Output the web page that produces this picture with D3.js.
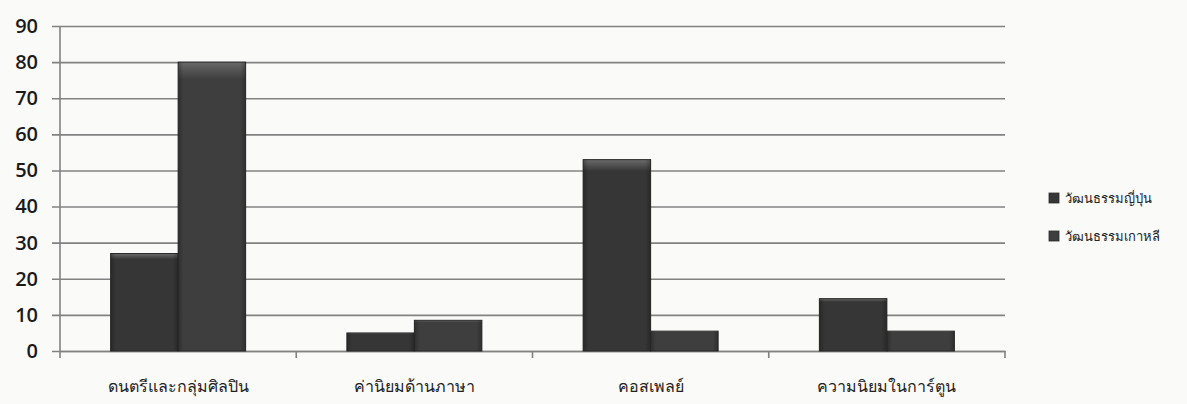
<!DOCTYPE html>
<html>
<head>
<meta charset="utf-8">
<script src="https://cdn.jsdelivr.net/npm/d3@7"></script>
<style>
  html, body { margin: 0; padding: 0; background: #fafaf9; }
  svg { display: block; }
</style>
</head>
<body>
<svg id="chart" width="1187" height="404"></svg>
<script>
// Categories, series and tick values
const categories = ["ดนตรีและกลุ่มศิลปิน", "ค่านิยมด้านภาษา", "คอสเพลย์", "ความนิยมในการ์ตูน"];
const seriesNames = ["วัฒนธรรมญี่ปุ่น", "วัฒนธรรมเกาหลี"];
const japanValues = [27, 5, 53, 14.5];
const koreaValues = [80, 8.5, 5.5, 5.5];
const yTicks = [0, 10, 20, 30, 40, 50, 60, 70, 80, 90];

const seriesValues = [japanValues, koreaValues];
const seriesColors = ["#363636", "#3e3e3e"];

const svg = d3.select("#chart");
const margin = { left: 60, right: 182, top: 26, bottom: 53 };
const W = 1187, H = 404;
const plotW = W - margin.left - margin.right;
const plotH = H - margin.top - margin.bottom;

const defs = svg.append("defs");
seriesColors.forEach((c, i) => {
  const g = defs.append("linearGradient")
    .attr("id", "bar" + i).attr("x1", 0).attr("x2", 0).attr("y1", 0).attr("y2", 1);
  g.append("stop").attr("offset", "0%").attr("stop-color", "#6a6a6a");
  g.append("stop").attr("offset", "2.5%").attr("stop-color", "#555");
  g.append("stop").attr("offset", "6%").attr("stop-color", c);
  g.append("stop").attr("offset", "100%").attr("stop-color", c);
  const h = defs.append("linearGradient")
    .attr("id", "side" + i).attr("x1", 0).attr("x2", 1).attr("y1", 0).attr("y2", 0);
  h.append("stop").attr("offset", "0%").attr("stop-color", "#000").attr("stop-opacity", 0.25);
  h.append("stop").attr("offset", "8%").attr("stop-color", "#000").attr("stop-opacity", 0);
  h.append("stop").attr("offset", "92%").attr("stop-color", "#000").attr("stop-opacity", 0);
  h.append("stop").attr("offset", "100%").attr("stop-color", "#000").attr("stop-opacity", 0.25);
});

const g = svg.append("g").attr("transform", `translate(${margin.left},${margin.top})`);

const x = d3.scaleBand().domain(categories).range([0, plotW]).paddingInner(0).paddingOuter(0);
const xInner = d3.scaleBand().domain(d3.range(seriesNames.length))
  .range([0, x.bandwidth()]).paddingOuter(0.75).paddingInner(0);
const y = d3.scaleLinear().domain([0, 90]).range([plotH, 0]);

// Horizontal gridlines with left tick marks
const yAxis = d3.axisLeft(y).tickValues(yTicks).tickSize(-plotW - 8).tickPadding(14).tickFormat(d3.format("d"));
const yg = g.append("g").attr("transform", "translate(-8,0)").call(yAxis);
yg.select(".domain").remove();
yg.selectAll(".tick line").attr("stroke", "#828282").attr("stroke-width", 1.6).attr("x1", 0);
yg.selectAll(".tick text")
  .attr("fill", "#1a1a1a")
  .style("font-family", "'Open Sans', 'Liberation Sans', sans-serif")
  .style("font-size", "20px")
  .style("font-weight", "600")
  .attr("x", -14);

// Vertical axis line
g.append("line").attr("x1", 0).attr("x2", 0).attr("y1", 0).attr("y2", plotH + 7)
  .attr("stroke", "#828282").attr("stroke-width", 1.6);

// Category axis
const xAxis = d3.axisBottom(x).tickSize(0).tickPadding(30);
const xg = g.append("g").attr("transform", `translate(0,${plotH})`).call(xAxis);
xg.select(".domain").attr("stroke", "#828282").attr("stroke-width", 1.6);
xg.selectAll(".tick text")
  .attr("fill", "#222")
  .style("font-family", "Tahoma, 'DejaVu Sans', 'Noto Sans', sans-serif")
  .style("font-size", "16px")
  .style("font-weight", "500");
// Category boundary tick marks
g.append("g").selectAll("line")
  .data(categories)
  .join("line")
  .attr("x1", d => x(d) + x.bandwidth())
  .attr("x2", d => x(d) + x.bandwidth())
  .attr("y1", plotH).attr("y2", plotH + 7)
  .attr("stroke", "#828282").attr("stroke-width", 1.6);

// Bars
const groups = g.append("g").selectAll("g")
  .data(categories)
  .join("g")
  .attr("transform", d => `translate(${x(d)},0)`);

groups.each(function(cat, ci) {
  const grp = d3.select(this);
  seriesValues.forEach((vals, si) => {
    const bx = xInner(si), bw = xInner.bandwidth();
    const by = y(vals[ci]), bh = y(0) - y(vals[ci]);
    grp.append("rect")
      .attr("x", bx).attr("y", by).attr("width", bw).attr("height", bh)
      .attr("fill", `url(#bar${si})`)
      .attr("stroke", "#2a2a2a").attr("stroke-width", 1);
    grp.append("rect")
      .attr("x", bx).attr("y", by).attr("width", bw).attr("height", bh)
      .attr("fill", `url(#side${si})`);
  });
});

// Legend
const legend = svg.append("g").attr("transform", "translate(1049,193)");
seriesNames.forEach((name, i) => {
  const row = legend.append("g").attr("transform", `translate(0,${i * 38})`);
  row.append("rect").attr("width", 10).attr("height", 10)
    .attr("fill", `url(#bar${i})`).attr("stroke", "#2a2a2a").attr("stroke-width", 0.8);
  row.append("text").attr("x", 16).attr("y", 10)
    .attr("fill", "#222")
    .style("font-family", "Tahoma, 'DejaVu Sans', 'Noto Sans', sans-serif")
    .style("font-size", "13px")
    .style("font-weight", "500")
    .text(name);
});
</script>
</body>
</html>
